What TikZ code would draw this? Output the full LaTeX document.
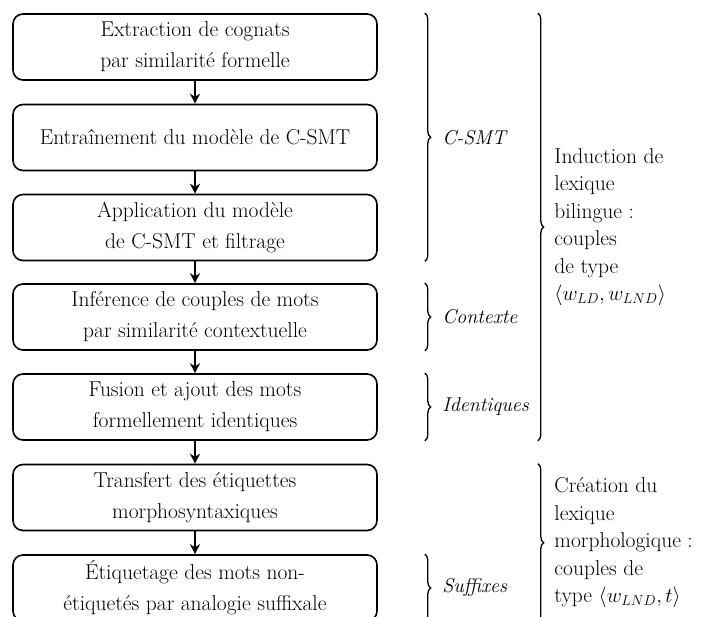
\documentclass[tikz,border=0pt]{standalone}
\usetikzlibrary{arrows.meta,decorations.pathreplacing}
\begin{document}
\begin{tikzpicture}[x=1pt,y=-1pt,
  stepbox/.style={draw, line width=1.6pt, rounded corners=10pt, minimum width=364pt, minimum height=66pt, align=center, inner sep=0pt, font=\fontsize{21.5}{31}\selectfont},
  flow/.style={-{Stealth[length=10pt,width=10pt]}, line width=1.8pt},
  brc/.style={decorate, decoration={brace, amplitude=6pt}, line width=1.3pt},
  lbl/.style={anchor=west, inner sep=0pt, font=\fontsize{20}{27.5}\selectfont\itshape},
  side/.style={anchor=west, inner sep=0pt, align=left, font=\fontsize{21.5}{27.5}\selectfont}]
\useasboundingbox (0,0) rectangle (705,617);
\node[stepbox] (b1) at (195,47) {Extraction de cognats\\par similarité formelle};
\node[stepbox] (b2) at (195,137.5) {Entraînement du modèle de C-SMT};
\node[stepbox] (b3) at (195,227.5) {Application du modèle\\de C-SMT et filtrage};
\node[stepbox] (b4) at (195,317) {Inférence de couples de mots\\par similarité contextuelle};
\node[stepbox] (b5) at (195,407) {Fusion et ajout des mots\\formellement identiques};
\node[stepbox] (b6) at (195,497.5) {Transfert des étiquettes\\morphosyntaxiques};
\node[stepbox] (b7) at (195,588) {Étiquetage des mots non-\\étiquetés par analogie suffixale};
\draw[flow] (b1) -- (b2);
\draw[flow] (b2) -- (b3);
\draw[flow] (b3) -- (b4);
\draw[flow] (b4) -- (b5);
\draw[flow] (b5) -- (b6);
\draw[flow] (b6) -- (b7);
\draw[brc] ([xshift=47pt]b1.north east) -- ([xshift=47pt]b3.south east) node[lbl, midway, xshift=17pt] (l1) {C-SMT};
\draw[brc] ([xshift=47pt]b4.north east) -- ([xshift=47pt]b4.south east) node[lbl, midway, xshift=17pt] (l2) {Contexte};
\draw[brc] ([xshift=47pt]b5.north east) -- ([xshift=47pt]b5.south east) node[lbl, midway, xshift=17pt] (l3) {Identiques};
\draw[brc] ([xshift=47pt]b7.north east) -- ([xshift=47pt]b7.south east) node[lbl, midway, xshift=17pt] (l4) {Suffixes};
\draw[brc] ([xshift=160pt]b1.north east) -- ([xshift=160pt]b5.south east) node[side, midway, xshift=16pt] (s1) {Induction de\\lexique\\bilingue :\\couples\\de type\\$\langle w_{LD}, w_{LND}\rangle$};
\draw[brc] ([xshift=160pt]b6.north east) -- ([xshift=160pt]b7.south east) node[side, midway, xshift=16pt] (s2) {Création du\\lexique\\morphologique :\\couples de\\type $\langle w_{LND}, t\rangle$};
\end{tikzpicture}
\end{document}
